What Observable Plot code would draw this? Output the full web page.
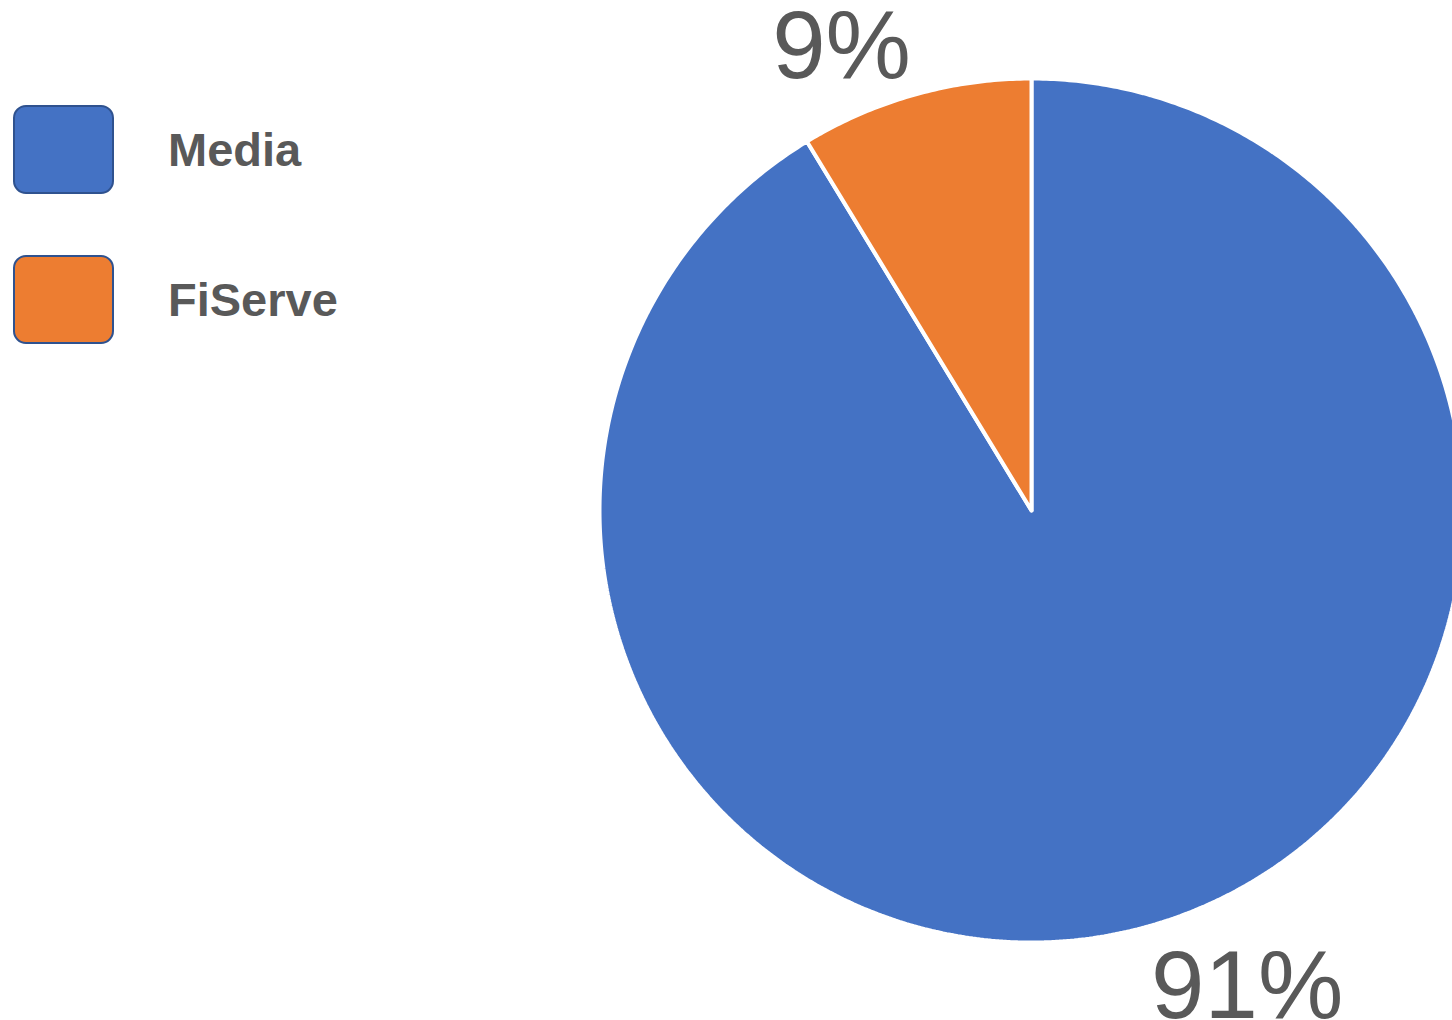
<!DOCTYPE html>
<html>
<head>
<meta charset="utf-8">
<script src="https://cdn.jsdelivr.net/npm/d3@7"></script>
<script src="https://cdn.jsdelivr.net/npm/@observablehq/plot@0.6"></script>
<style>
  html, body { margin: 0; padding: 0; background: #ffffff; }
  #wrap { position: relative; width: 1452px; height: 1020px; overflow: hidden; background: #fff; font-family: "Liberation Sans", Arial, sans-serif; }
  #chart { position: absolute; left: 0; top: 0; }
  .legend-item { position: absolute; left: 13px; display: flex; align-items: center; }
  .swatch { width: 97px; height: 85px; border: 2px solid #2F528F; border-radius: 13px; }
  .legend-label { position: absolute; left: 168px; font-weight: bold; font-size: 47px; line-height: 1; color: #595959; white-space: nowrap; }
</style>
</head>
<body>
<div id="wrap">
  <div id="chart"></div>
  <div id="legend"></div>
</div>
<script>
// ---- data ----
const categories = ["Media", "FiServe"];
const values = [91.3, 8.7];
const labels = ["91%", "9%"];
const colors = ["#4472C4", "#ED7D31"];

// ---- build slices (pie geometry from values) ----
const arcs = d3.pie().sort(null).value(d => d)(values);
const pts = [];
arcs.forEach((a, i) => {
  const cat = categories[i];
  pts.push({cat, x: 0, y: 0});
  const n = Math.max(4, Math.ceil((a.endAngle - a.startAngle) / (Math.PI / 360)));
  for (let k = 0; k <= n; k++) {
    const t = a.startAngle + (a.endAngle - a.startAngle) * k / n;
    pts.push({cat, x: Math.sin(t), y: Math.cos(t)});
  }
  pts.push({cat, x: 0, y: 0});
});
const labelData = arcs.map((a, i) => {
  const m = (a.startAngle + a.endAngle) / 2;
  return {cat: categories[i], label: labels[i], x: Math.sin(m), y: Math.cos(m)};
});

const R = 432, CX = 1031, CY = 510, W = 1452, H = 1020;

const chart = Plot.plot({
  width: W,
  height: H,
  margin: 0,
  x: {domain: [-CX / R, (W - CX) / R], axis: null},
  y: {domain: [-(H - CY) / R, CY / R], axis: null},
  color: {domain: categories, range: colors},
  style: {background: "transparent", fontFamily: "'Liberation Sans', Arial, sans-serif", overflow: "hidden"},
  marks: [
    Plot.line(pts, {x: "x", y: "y", z: "cat", fill: "cat", stroke: "white", strokeWidth: 4, strokeLinejoin: "miter"}),
    Plot.text(labelData.filter(d => d.cat === "FiServe"), {
      x: "x", y: "y", text: "label", textAnchor: "end", lineAnchor: "bottom",
      dx: -4, dy: -17, fontSize: 96, fill: "#595959"
    }),
    Plot.text(labelData.filter(d => d.cat === "Media"), {
      x: "x", y: "y", text: "label", textAnchor: "start", lineAnchor: "top",
      dx: 3, dy: 23, fontSize: 96, fill: "#595959"
    })
  ]
});
document.getElementById("chart").appendChild(chart);

// ---- legend ----
const legend = document.getElementById("legend");
categories.forEach((c, i) => {
  const top = 105 + i * 150;
  const item = document.createElement("div");
  item.className = "legend-item";
  item.style.top = top + "px";
  const sw = document.createElement("div");
  sw.className = "swatch";
  sw.style.background = colors[i];
  item.appendChild(sw);
  legend.appendChild(item);
  const lab = document.createElement("div");
  lab.className = "legend-label";
  lab.style.top = (top + 21) + "px";
  lab.textContent = c;
  legend.appendChild(lab);
});
</script>
</body>
</html>
